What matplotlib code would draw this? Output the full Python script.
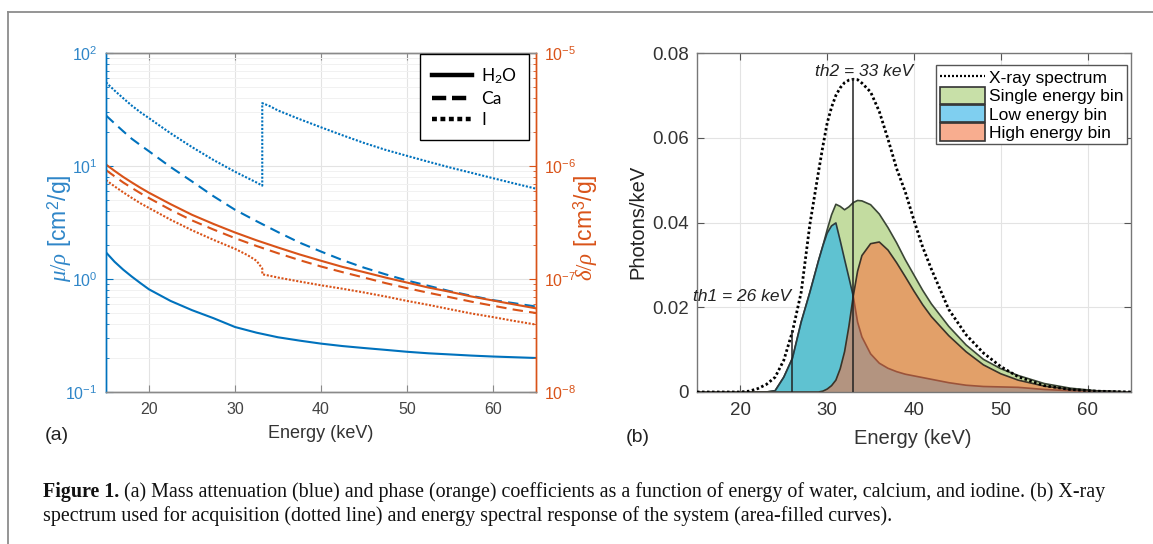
import numpy as np
import matplotlib
matplotlib.use("Agg")
import matplotlib.pyplot as plt
from matplotlib.lines import Line2D
from matplotlib.patches import Patch
from matplotlib.ticker import FuncFormatter, FixedLocator, LogLocator, NullFormatter

plt.rcParams['font.family'] = ['Liberation Sans', 'DejaVu Sans']
plt.rcParams['mathtext.fontset'] = 'custom'
plt.rcParams['mathtext.it'] = 'Liberation Serif:italic'
plt.rcParams['mathtext.rm'] = 'Liberation Serif'

# ---------------- data: panel (a) ----------------
e_att = [15, 16, 17, 18, 19, 20, 22.5, 25, 27.5, 30, 32.5, 35, 37.5, 40, 42.5, 45,
         47.5, 50, 52.5, 55, 57.5, 60, 62.5, 65]
mu_h2o = [1.72, 1.42, 1.21, 1.05, 0.92, 0.81, 0.64, 0.53, 0.45, 0.376, 0.335, 0.305,
          0.285, 0.268, 0.255, 0.245, 0.236, 0.227, 0.220, 0.215, 0.210, 0.206, 0.203,
          0.200]
mu_ca = [28, 23.8, 20.3, 17.4, 15.3, 13.5, 9.8, 7.3, 5.4, 4.1, 3.25, 2.6, 2.1, 1.75,
         1.47, 1.26, 1.1, 0.97, 0.87, 0.78, 0.71, 0.65, 0.61, 0.57]
delta_h2o = [1.03e-6, 9.05e-7, 8.0e-7, 7.15e-7, 6.42e-7, 5.8e-7, 4.6e-7, 3.7e-7,
             3.07e-7, 2.58e-7, 2.2e-7, 1.9e-7, 1.65e-7, 1.45e-7, 1.28e-7, 1.15e-7,
             1.03e-7, 9.3e-8, 8.4e-8, 7.7e-8, 7.0e-8, 6.45e-8, 5.95e-8, 5.5e-8]
delta_ca = [9.2e-7, 8.1e-7, 7.15e-7, 6.4e-7, 5.75e-7, 5.2e-7, 4.1e-7, 3.3e-7, 2.74e-7,
            2.3e-7, 1.96e-7, 1.69e-7, 1.47e-7, 1.29e-7, 1.15e-7, 1.03e-7, 9.2e-8,
            8.3e-8, 7.55e-8, 6.9e-8, 6.3e-8, 5.8e-8, 5.35e-8, 5.0e-8]
e_iod = [15, 16, 17, 18, 19, 20, 22.5, 25, 27.5, 30, 31.5, 32.5, 33.17, 33.17, 34, 35,
         37.5, 40, 42.5, 45, 47.5, 50, 52.5, 55, 57.5, 60, 62.5, 65]
mu_iod = [55, 46.5, 39.8, 34.2, 29.9, 26.5, 19.5, 14.7, 11.3, 8.9, 7.8, 7.15, 6.7, 36,
          34, 31, 26, 22, 18.7, 16, 13.9, 12.3, 10.9, 9.7, 8.7, 7.8, 7.0, 6.3]
delta_iod = [7.5e-7, 6.6e-7, 5.85e-7, 5.22e-7, 4.68e-7, 4.25e-7, 3.35e-7, 2.7e-7,
             2.22e-7, 1.85e-7, 1.62e-7, 1.45e-7, 1.24e-7, 1.1e-7, 1.07e-7, 1.03e-7,
             9.5e-8, 8.8e-8, 8.2e-8, 7.6e-8, 7.0e-8, 6.4e-8, 5.9e-8, 5.4e-8, 4.95e-8,
             4.6e-8, 4.25e-8, 3.95e-8]
material_labels = ['$\\mathregular{H_2O}$', 'Ca', 'I']
x_ticks = [20, 30, 40, 50, 60]

# ---------------- data: panel (b) ----------------
e_spec = [15, 20, 21, 22, 23, 24, 25, 26, 27, 28, 29, 29.5, 30, 30.5, 31, 31.5, 32,
          32.5, 33, 33.5, 34, 35, 36, 37, 38, 39, 40, 41, 42, 44, 46, 48, 50, 52, 55,
          58, 61, 65]
xray_spectrum = [0, 0, 0.0002, 0.0008, 0.0018, 0.0035, 0.0075, 0.0143, 0.0235, 0.0395,
                 0.052, 0.058, 0.0635, 0.0672, 0.0700, 0.0718, 0.0730, 0.0736, 0.0738,
                 0.0737, 0.0729, 0.0708, 0.0662, 0.0597, 0.0527, 0.0472, 0.0405,
                 0.0342, 0.0290, 0.0195, 0.0135, 0.0092, 0.0060, 0.0036, 0.0015,
                 0.0006, 0.0002, 0.0]
single_bin = [0, 0, 0, 0, 0, 0.0003, 0.0035, 0.0080, 0.0165, 0.0235, 0.031, 0.0345,
              0.0383, 0.0418, 0.0443, 0.0438, 0.0430, 0.0437, 0.0447, 0.0452, 0.0451,
              0.0442, 0.0420, 0.0388, 0.0352, 0.0312, 0.0276, 0.0240, 0.0208, 0.0155,
              0.0111, 0.0077, 0.0055, 0.0039, 0.0020, 0.0009, 0.0003, 0]
low_bin = [0, 0, 0, 0, 0, 0.0003, 0.0035, 0.0080, 0.0165, 0.0235, 0.031, 0.0345,
           0.0375, 0.0392, 0.0399, 0.0357, 0.0313, 0.0270, 0.0226, 0.0165, 0.0130,
           0.0090, 0.0068, 0.0056, 0.0048, 0.0042, 0.0038, 0.0034, 0.0030, 0.0022,
           0.0016, 0.0013, 0.0012, 0.0011, 0.0006, 0.0003, 0.0001, 0]
high_bin = [0, 0, 0, 0, 0, 0, 0, 0, 0, 0, 0, 0.0002, 0.0007, 0.0015, 0.0028, 0.0055,
            0.0095, 0.0155, 0.0226, 0.0285, 0.0322, 0.0350, 0.0354, 0.0335, 0.0305,
            0.0272, 0.0238, 0.0206, 0.0178, 0.0133, 0.0095, 0.0064, 0.0043, 0.0028,
            0.0014, 0.0006, 0.0002, 0]
thresholds = [26, 33]
threshold_labels = ['th1 = 26 keV', 'th2 = 33 keV']
spec_labels = ['X-ray spectrum', 'Single energy bin', 'Low energy bin', 'High energy bin']
y_ticks_b = [0, 0.02, 0.04, 0.06, 0.08]
y_ticklabels_b = ['0', '0.02', '0.04', '0.06', '0.08']

# ---------------- figure ----------------
W, H = 1153, 544
fig = plt.figure(figsize=(W / 100, H / 100), dpi=100)


def fx(x):
    return x / W


def fy(y):
    return 1 - y / H


BLUE = '#0072BD'
ORANGE = '#D95319'
BLUE_T = '#2f86c8'
GRAY = '#8a8a8a'

# outer frame (only top and left visible)
fig.add_artist(Line2D([fx(8), 1.0], [fy(12), fy(12)], transform=fig.transFigure,
                      color='#8c8c8c', lw=1.3))
fig.add_artist(Line2D([fx(8), fx(8)], [fy(12), 0.0], transform=fig.transFigure,
                      color='#8c8c8c', lw=1.3))

# ---------------- panel (a) ----------------
ax1 = fig.add_axes([fx(106), fy(392), 430 / W, 339 / H])
ax2 = ax1.twinx()
ax1.set_yscale('log')
ax2.set_yscale('log')
ax1.set_xlim(15, 65)
ax1.set_ylim(0.1, 100)
ax2.set_ylim(1e-8, 1e-5)

LW = 1.5
ax1.plot(e_att, mu_h2o, color=BLUE, lw=LW, ls='-')
ax1.plot(e_att, mu_ca, color=BLUE, lw=LW, ls=(0, (5, 3)))
ax1.plot(e_iod, mu_iod, color=BLUE, lw=LW, ls=(0, (1, 0.8)))
ax2.plot(e_att, delta_h2o, color=ORANGE, lw=LW, ls='-')
ax2.plot(e_att, delta_ca, color=ORANGE, lw=LW, ls=(0, (5, 3)))
ax2.plot(e_iod, delta_iod, color=ORANGE, lw=LW, ls=(0, (1, 0.8)))

ax1.set_axisbelow(True)
ax1.grid(True, which='major', color='#e3e3e3', lw=0.8)
ax1.grid(True, which='minor', axis='y', color='#f1f1f1', lw=0.7)
ax1.xaxis.set_major_locator(FixedLocator(x_ticks))


def pow_fmt(v, pos):
    e = int(round(np.log10(v)))
    return '$\\mathregular{10^{%d}}$' % e


for ax in (ax1, ax2):
    ax.yaxis.set_major_locator(LogLocator(base=10, numticks=10))
    ax.yaxis.set_minor_locator(LogLocator(base=10, subs=np.arange(2, 10), numticks=20))
    ax.yaxis.set_major_formatter(FuncFormatter(pow_fmt))
    ax.yaxis.set_minor_formatter(NullFormatter())
    ax.spines['left'].set_color(BLUE)
    ax.spines['right'].set_color(ORANGE)
    ax.spines['top'].set_color(GRAY)
    ax.spines['bottom'].set_color(GRAY)
    for s in ax.spines.values():
        s.set_linewidth(1.0)

ax1.tick_params(axis='y', which='both', direction='in', colors=BLUE, labelcolor=BLUE_T,
                labelsize=11.5, pad=6)
ax1.tick_params(axis='y', which='major', length=5)
ax1.tick_params(axis='y', which='minor', length=2.5)
ax1.tick_params(axis='x', direction='in', top=True, length=5, color=GRAY,
                labelcolor='#444444', labelsize=11.5, pad=7)
ax2.tick_params(axis='y', which='both', direction='in', colors=ORANGE, labelcolor=ORANGE,
                labelsize=11.5, pad=6)
ax2.tick_params(axis='y', which='major', length=5)
ax2.tick_params(axis='y', which='minor', length=2.5)

leg_handles = [Line2D([], [], color='k', lw=3.2, ls='-'),
               Line2D([], [], color='k', lw=3.2, ls=(0, (3.2, 1.3))),
               Line2D([], [], color='k', lw=3.2, ls=(0, (1.1, 0.8)))]
leg1 = ax2.legend(leg_handles, material_labels, loc='upper right',
                  bbox_to_anchor=(0.984, 0.997), borderaxespad=0, fancybox=False,
                  edgecolor='k', framealpha=1, handlelength=2.3, handletextpad=0.5,
                  labelspacing=0.28, borderpad=0.7,
                  prop={'family': ['Lato', 'DejaVu Sans'], 'size': 12.5})
leg1.get_frame().set_linewidth(1.0)

fig.text(fx(60), fy(228), '$\\mu/\\rho$ [cm$^{\\mathregular{2}}$/g]', rotation=90,
         ha='center', va='center', color=BLUE_T, fontsize=16.5)
fig.text(fx(586), fy(228), '$\\delta/\\rho$ [cm$^{\\mathregular{3}}$/g]', rotation=90,
         ha='center', va='center', color=ORANGE, fontsize=16.5)
fig.text(fx(321), fy(434), 'Energy (keV)', ha='center', va='center', color='#333333',
         fontsize=13)
fig.text(fx(57), fy(436), '(a)', ha='center', va='center', color='#222222', fontsize=14)

# ---------------- panel (b) ----------------
ax3 = fig.add_axes([fx(697), fy(392), 434 / W, 339 / H])
ax3.set_xlim(15, 65)
ax3.set_ylim(0, 0.08)

GREEN_F = '#c3dca0'
BLUE_F = (28 / 255, 178 / 255, 243 / 255)
ORANGE_F = (255 / 255, 107 / 255, 56 / 255)
EDGE = '#3b4636'

ax3.fill_between(e_spec, 0, single_bin, facecolor=GREEN_F, edgecolor='none', zorder=2)
ax3.plot(e_spec, single_bin, color=EDGE, lw=1.2, zorder=2.1)
ax3.fill_between(e_spec, 0, low_bin, facecolor=BLUE_F, alpha=0.6, edgecolor='none',
                 zorder=2.2)
ax3.plot(e_spec, low_bin, color='#2b3a3e', lw=1.2, zorder=2.3)
ax3.fill_between(e_spec, 0, high_bin, facecolor=ORANGE_F, alpha=0.53, edgecolor='none',
                 zorder=2.4)
ax3.plot(e_spec, high_bin, color='#3a3328', lw=1.2, zorder=2.5)
ax3.plot(e_spec, xray_spectrum, color='k', lw=2.0, ls=(0, (0.9, 0.9)), zorder=3)

for th in thresholds:
    top = xray_spectrum[e_spec.index(th)]
    ax3.plot([th, th], [0, top], color='#222222', lw=1.1, zorder=3.5)

ax3.text(thresholds[0] - 0.1, 0.0225, threshold_labels[0], ha='right', va='center',
         style='italic', fontsize=12.5, color='#222222', zorder=4)
ax3.text(thresholds[1] + 1.3, 0.0757, threshold_labels[1], ha='center', va='center',
         style='italic', fontsize=12.5, color='#222222', zorder=4)

ax3.set_axisbelow(True)
ax3.grid(True, which='major', color='#e3e3e3', lw=0.8)
ax3.xaxis.set_major_locator(FixedLocator(x_ticks))
ax3.set_yticks(y_ticks_b)
ax3.set_yticklabels(y_ticklabels_b)
ax3.tick_params(axis='both', direction='in', top=True, right=True, length=5,
                color='#555555', labelcolor='#333333', labelsize=13.5)
ax3.tick_params(axis='x', pad=7)
ax3.tick_params(axis='y', pad=6)
for s in ax3.spines.values():
    s.set_color('#777777')
    s.set_linewidth(1.0)

spec_handles = [Line2D([], [], color='k', lw=1.6, ls=(0, (0.9, 0.9))),
                Patch(facecolor='#c8e0a8', edgecolor='#333333', lw=1.2),
                Patch(facecolor='#7fcff0', edgecolor='#333333', lw=1.2),
                Patch(facecolor='#f8ad8f', edgecolor='#333333', lw=1.2)]
leg2 = ax3.legend(spec_handles, spec_labels, loc='upper right',
                  bbox_to_anchor=(0.991, 0.965), borderaxespad=0, fancybox=False,
                  edgecolor='#555555', framealpha=1, handlelength=2.6, handleheight=1.15,
                  handletextpad=0.25, labelspacing=0.05, borderpad=0.2,
                  fontsize=12.5)
leg2.get_frame().set_linewidth(1.0)

fig.text(fx(638), fy(222), 'Photons/keV', rotation=90, ha='center', va='center',
         color='#222222', fontsize=14.5)
fig.text(fx(913), fy(439), 'Energy (keV)', ha='center', va='center', color='#333333',
         fontsize=14.5)
fig.text(fx(638), fy(438), '(b)', ha='center', va='center', color='#222222', fontsize=14)

# ---------------- caption ----------------
cap_bold = 'Figure 1.'
cap_rest1 = (' (a) Mass attenuation (blue) and phase (orange) coefficients as a function '
             'of energy of water, calcium, and iodine. (b) X-ray')
cap_line2 = ('spectrum used for acquisition (dotted line) and energy spectral response of '
             'the system (area-filled curves).')
cap_font = ['Liberation Serif', 'DejaVu Serif']
fs = 14.4
renderer = fig.canvas.get_renderer()
t_bold = fig.text(fx(43), fy(497), cap_bold, fontweight='bold', family=cap_font,
                  fontsize=fs, va='baseline', color='#111111')
bb = t_bold.get_window_extent(renderer)
fig.text((bb.x1) / W, fy(497), cap_rest1, family=cap_font, fontsize=fs,
         va='baseline', color='#111111')
fig.text(fx(43), fy(521), cap_line2, family=cap_font, fontsize=fs, va='baseline',
         color='#111111')

fig.savefig('out.png', dpi=100)
